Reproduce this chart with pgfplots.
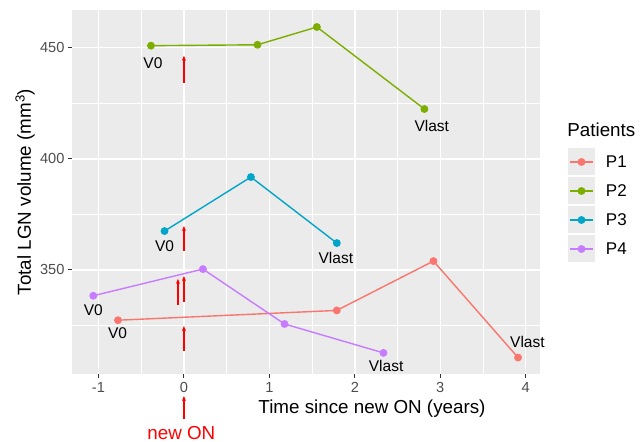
\documentclass[border=0pt]{standalone}
\usepackage{pgfplots}
\pgfplotsset{compat=1.18}
\usepackage{fontspec}
\setmainfont{Liberation Sans}
\usetikzlibrary{arrows.meta}
\definecolor{bg}{HTML}{EBEBEB}
\definecolor{cPa}{HTML}{F8766D}
\definecolor{cPb}{HTML}{7CAE00}
\definecolor{cPc}{HTML}{00A6CA}
\definecolor{cPd}{HTML}{C77CFF}
\definecolor{tickgray}{HTML}{4D4D4D}
\definecolor{tickmark}{HTML}{333333}
\begin{document}
\begin{tikzpicture}
\useasboundingbox (-72bp,-68bp) rectangle (571bp,374bp);
\begin{axis}[
  at={(0,0)}, anchor=south west,
  scale only axis, width=468bp, height=364bp,
  xmin=-1.31, xmax=4.167, ymin=303.2, ymax=466.95,
  xtick={-1,0,1,2,3,4}, ytick={350,400,450},
  minor xtick={-0.5,0.5,1.5,2.5,3.5},
  minor ytick={325,375,425},
  xtick pos=bottom, ytick pos=left,
  grid=both,
  major grid style={white, line width=1.5bp},
  minor grid style={white, line width=0.75bp},
  axis background/.style={fill=bg},
  axis line style={draw=none},
  tick align=outside,
  major tick length=4bp, minor tick length=0pt,
  tick style={tickmark, line width=1bp},
  /pgf/number format/assume math mode=true,
  ticklabel style={font=\fontsize{14.6bp}{17bp}\selectfont, text=tickgray},
  xticklabel style={yshift=-1bp},
  clip=false,
  xlabel={Time since new ON (years)},
  ylabel={Total LGN volume (mm\textsuperscript{3})},
  label style={font=\fontsize{18.8bp}{22bp}\selectfont},
  xlabel style={at={(axis description cs:0.641,-0.096)}, anchor=center},
  ylabel style={at={(axis description cs:-0.1004,0.5)}, anchor=center},
  every axis plot/.append style={line width=1.4bp, mark=*, mark size=3.2bp},
  legend style={at={(axis description cs:1.0598,0.6195)}, anchor=north west,
    draw=none, fill=none, inner sep=0pt, outer sep=0pt,
    row sep=2bp,
    font=\fontsize{17bp}{19bp}\selectfont,
    cells={anchor=west},
    /tikz/every odd column/.append style={column sep=9bp}},
  legend image code/.code={
    \fill[draw=none, fill=bg] (0bp,-13.5bp) rectangle (27bp,13.5bp);
    \draw[mark repeat=2, mark phase=2] plot coordinates {(2bp,0bp) (13.5bp,0bp) (25bp,0bp)};
  },
]
\addplot[cPa] coordinates {(-0.772,327.4) (1.789,331.8) (2.92,354.0) (3.91,310.6)};
\addlegendentry{P1}
\addplot[cPb] coordinates {(-0.386,450.9) (0.861,451.3) (1.556,459.3) (2.814,422.4)};
\addlegendentry{P2}
\addplot[cPc] coordinates {(-0.227,367.5) (0.784,391.8) (1.789,362.1)};
\addlegendentry{P3}
\addplot[cPd] coordinates {(-1.061,338.4) (0.222,350.4) (1.177,325.7) (2.335,312.7)};
\addlegendentry{P4}
% labels
\begin{scope}[every node/.style={font=\fontsize{15.5bp}{18bp}\selectfont}]
\node at (axis cs:-0.363,443) {V0};
\node at (axis cs:-0.227,360.5) {V0};
\node at (axis cs:-1.061,332) {V0};
\node at (axis cs:-0.777,321.5) {V0};
\node at (axis cs:2.9,415) {Vlast};
\node at (axis cs:1.778,355.3) {Vlast};
\node at (axis cs:2.366,307) {Vlast};
\node at (axis cs:4.02,317.6) {Vlast};
\end{scope}
% arrows
\begin{scope}[red, line width=1.5bp, -{Stealth[length=5bp,width=4bp]}]
\draw (axis cs:0,434.3) -- (axis cs:0,446.4);
\draw (axis cs:0,358.5) -- (axis cs:0,369.8);
\draw (axis cs:0,335.6) -- (axis cs:0,347.3);
\draw (axis cs:-0.07,334.3) -- (axis cs:-0.07,346.0);
\draw (axis cs:0,313.7) -- (axis cs:0,324.8);
\draw (axis cs:0,283) -- (axis cs:0,293.3);
\end{scope}
\node[red, font=\fontsize{18.8bp}{22bp}\selectfont] at (axis cs:-0.03,276.7) {new ON};
\node[anchor=west, font=\fontsize{18.8bp}{22bp}\selectfont] at (axis description cs:1.051,0.670) {Patients};
\end{axis}
\end{tikzpicture}
\end{document}
